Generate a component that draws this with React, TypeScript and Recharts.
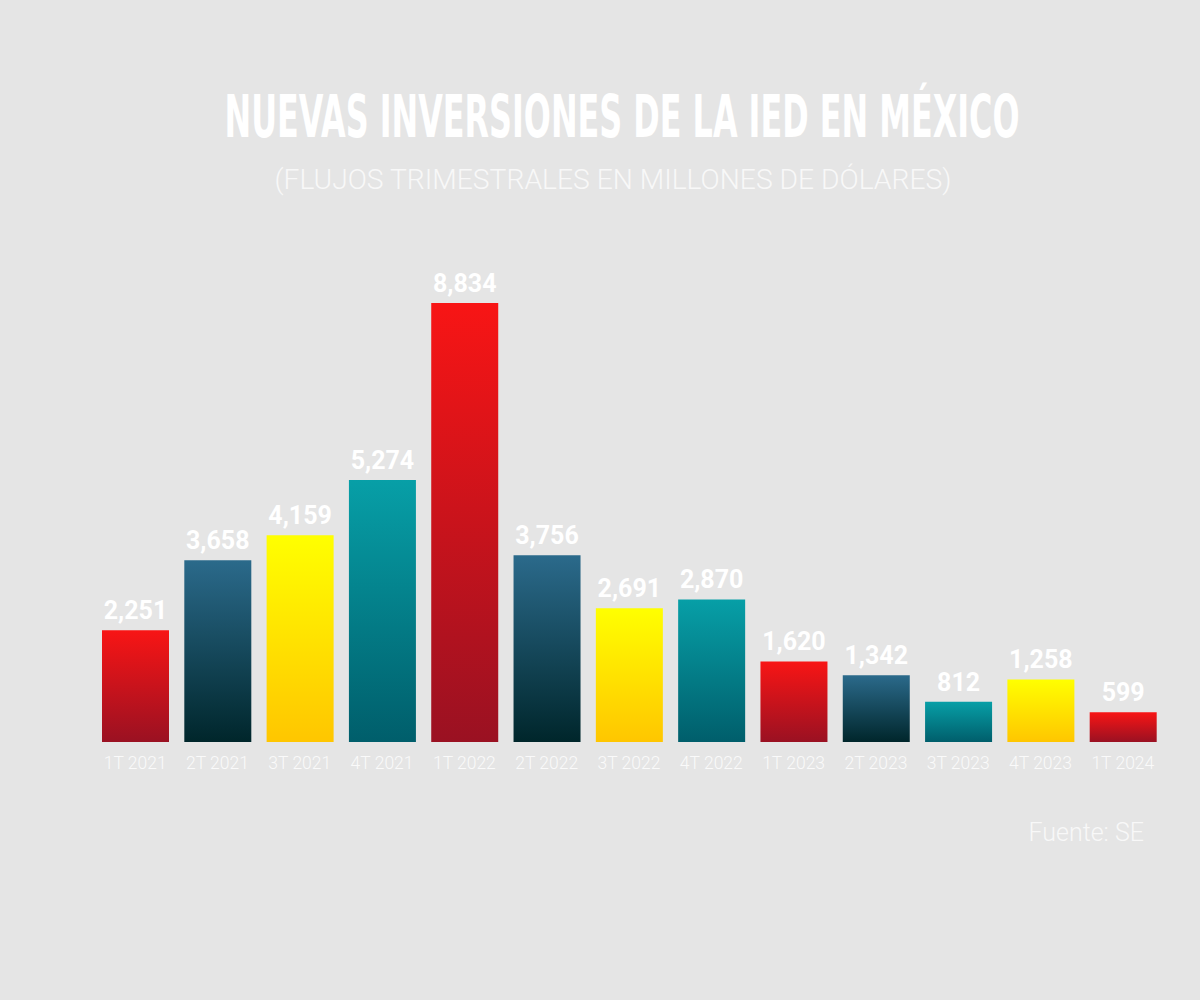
import { BarChart, Bar, XAxis, YAxis, Cell, LabelList } from "recharts";

// Trimestres y flujos (millones de dólares)
const quarters = [
  "1T 2021", "2T 2021", "3T 2021", "4T 2021",
  "1T 2022", "2T 2022", "3T 2022", "4T 2022",
  "1T 2023", "2T 2023", "3T 2023", "4T 2023",
  "1T 2024",
];
const values = [2251, 3658, 4159, 5274, 8834, 3756, 2691, 2870, 1620, 1342, 812, 1258, 599];
const barColors = [
  "red", "blue", "yellow", "teal",
  "red", "blue", "yellow", "teal",
  "red", "blue", "teal", "yellow",
  "red",
];

// gradientes: [arriba, abajo]
const gradients: Record<string, [string, string]> = {
  red: ["#f81515", "#9a1122"],
  blue: ["#2b6a8b", "#00262b"],
  yellow: ["#ffff00", "#ffc600"],
  teal: ["#079fa7", "#005e6b"],
};

const data = quarters.map((q, i) => ({ name: q, value: values[i], color: barColors[i] }));

const fmt = (v: any) => Number(v).toLocaleString("en-US");

export default function App() {
  return (
    <div style={{ position: "relative", width: 1200, height: 1000, background: "#e5e5e5", overflow: "hidden" }}>
      <style>{`body{margin:0}`}</style>
      <BarChart
        width={1200}
        height={1000}
        data={data}
        margin={{ top: 303, right: 36, bottom: 228, left: 94 }}
        barSize={67}
      >
        <defs>
          {Object.keys(gradients).map((k) => (
            <linearGradient key={k} id={`grad-${k}`} x1="0" y1="0" x2="0" y2="1">
              <stop offset="0%" stopColor={gradients[k][0]} />
              <stop offset="100%" stopColor={gradients[k][1]} />
            </linearGradient>
          ))}
        </defs>
        <XAxis
          dataKey="name"
          axisLine={false}
          tickLine={false}
          interval={0}
          tickMargin={9}
          height={30}
          tick={{ fill: "#fafafa", fontSize: 17.5, fontFamily: "Roboto", fontWeight: 300 }}
        />
        <YAxis hide domain={[0, 8834]} />
        <Bar dataKey="value" isAnimationActive={false}>
          {data.map((d, i) => (
            <Cell key={`cell-${i}`} fill={`url(#grad-${d.color})`} />
          ))}
          <LabelList
            dataKey="value"
            position="top"
            offset={11}
            formatter={fmt}
            fill="#ffffff"
            fontSize={25}
            fontWeight={700}
            fontFamily="Roboto"
          />
        </Bar>
      </BarChart>
      <svg width={1200} height={1000} style={{ position: "absolute", left: 0, top: 0, pointerEvents: "none" }}>
        <text
          x={622}
          y={137}
          textAnchor="middle"
          fill="#ffffff"
          fontSize={58}
          fontWeight={700}
          fontFamily="'Liberation Sans Narrow', 'DejaVu Sans Condensed', Roboto"
          textLength={795}
          lengthAdjust="spacingAndGlyphs"
        >
          NUEVAS INVERSIONES DE LA IED EN MÉXICO
        </text>
        <text
          x={613}
          y={189}
          textAnchor="middle"
          fill="#f8f8f8"
          fontSize={27}
          fontWeight={300}
          fontFamily="Roboto"
          textLength={677}
          lengthAdjust="spacingAndGlyphs"
        >
          (FLUJOS TRIMESTRALES EN MILLONES DE DÓLARES)
        </text>
        <text
          x={1144}
          y={841}
          textAnchor="end"
          fill="#f8f8f8"
          fontSize={25}
          fontWeight={300}
          fontFamily="Roboto"
        >
          Fuente: SE
        </text>
      </svg>
    </div>
  );
}
